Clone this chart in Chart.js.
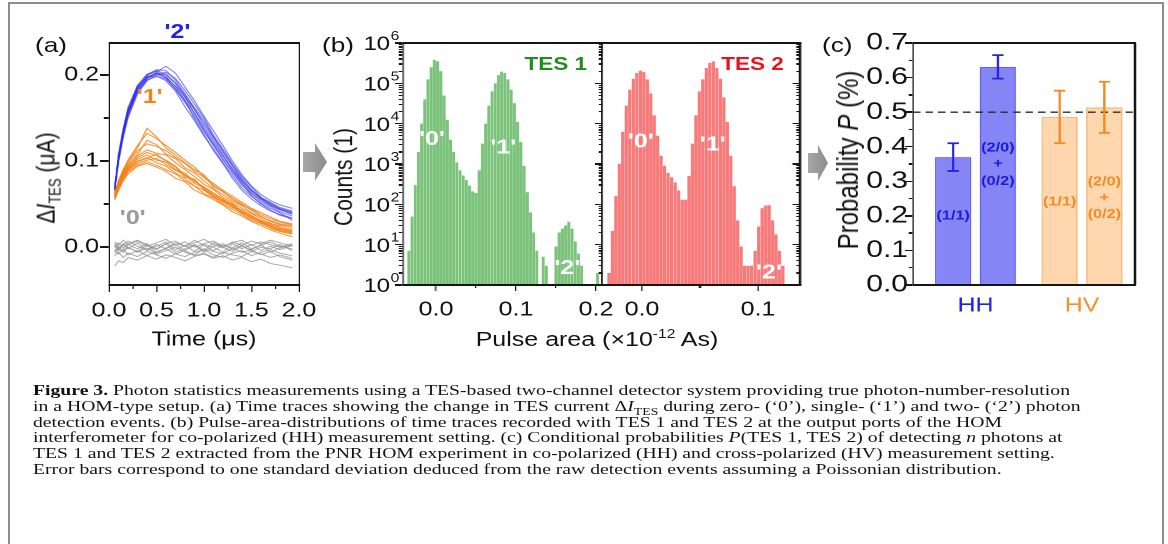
<!DOCTYPE html>
<html><head><meta charset="utf-8">
<script src="https://cdn.jsdelivr.net/npm/chart.js@4.4.1/dist/chart.umd.min.js"></script>
<style>
html,body{margin:0;padding:0;background:#fff;}
body{width:1168px;height:544px;overflow:hidden;position:relative;font-family:"Liberation Sans",Arial,sans-serif;color:#111;}
#frame{position:absolute;left:8px;top:2px;width:1152px;height:600px;border:2px solid #8d8d8d;border-bottom:none;}
#stage{position:absolute;left:0;top:0;width:934.4px;height:360px;transform:scaleX(1.25);transform-origin:0 0;}
.pan{position:absolute;top:0;}
.lbl{position:absolute;font-size:21px;line-height:21px;white-space:nowrap;}
.ttl{position:absolute;white-space:nowrap;transform:translate(-50%,-50%) rotate(-90deg);line-height:1;}
.xttl{position:absolute;white-space:nowrap;transform:translate(-50%,-50%);line-height:1;}
.ttl sub,.xttl sup{font-size:0.62em;line-height:0;}
.fr{position:absolute;background:#151515;}
#arrows{position:absolute;left:0;top:0;}
#caption{position:absolute;left:33px;top:382px;font-family:"Liberation Serif","Times New Roman",serif;font-size:15.5px;line-height:15.8px;color:#111;transform-origin:0 0;white-space:nowrap;}
#caption sub{font-size:0.7em;line-height:0;}
</style>
</head><body>
<div id="frame"></div>
<div id="stage">
  <canvas class="pan" id="ca" width="267" height="360" style="left:0"></canvas>
  <canvas class="pan" id="cb1" width="270" height="360" style="left:240px"></canvas>
  <canvas class="pan" id="cb2" width="190" height="360" style="left:470px"></canvas>
  <canvas class="pan" id="cc" width="290" height="360" style="left:640px"></canvas>
  <div class="lbl" style="left:28px;top:34px">(a)</div>
  <div class="lbl" style="left:257.6px;top:34px">(b)</div>
  <div class="lbl" style="left:657.6px;top:34px">(c)</div>
  <div class="ttl" style="left:36px;top:178px;font-size:21px">Δ<i>I</i><sub>TES</sub> (μA)</div>
  <div class="ttl" style="left:274.4px;top:177px;font-size:21px">Counts (1)</div>
  <div class="ttl" style="left:678.4px;top:160px;font-size:24px">Probability <i>P</i> (%)</div>
  <div class="xttl" style="left:477.6px;top:339px;font-size:20px">Pulse area (×10<sup>-12</sup> As)</div>
</div>
<svg id="arrows" width="1168" height="544">
  <defs><linearGradient id="ag" x1="0" y1="0" x2="1" y2="0"><stop offset="0" stop-color="#a8a8a8"/><stop offset="1" stop-color="#8c8c8c"/></linearGradient></defs>
  <polygon points="303,152 315,152 315,143 327,162 315,181 315,172 303,172" fill="url(#ag)"/>
  <polygon points="808,153 818,153 818,145 828,163 818,181 818,173 808,173" fill="url(#ag)"/>
</svg>
<div id="caption">
<div><span id="cl1"><b>Figure 3.</b> Photon statistics measurements using a TES-based two-channel detector system providing true photon-number-resolution</span></div>
<div>in a HOM-type setup. (a) Time traces showing the change in TES current Δ<i>I</i><sub>TES</sub> during zero- (‘0’), single- (‘1’) and two- (‘2’) photon</div>
<div>detection events. (b) Pulse-area-distributions of time traces recorded with TES 1 and TES 2 at the output ports of the HOM</div>
<div>interferometer for co-polarized (HH) measurement setting. (c) Conditional probabilities <i>P</i>(TES 1, TES 2) of detecting <i>n</i> photons at</div>
<div>TES 1 and TES 2 extracted from the PNR HOM experiment in co-polarized (HH) and cross-polarized (HV) measurement setting.</div>
<div>Error bars correspond to one standard deviation deduced from the raw detection events assuming a Poissonian distribution.</div>
</div>
<script>
// ---------------- data ----------------
// (a) time axis (µs) of the traces
const traceTime = [0.06,0.1,0.15,0.2,0.3,0.4,0.5,0.6,0.7,0.8,0.9,1.0,1.1,1.2,1.3,1.4,1.5,1.6,1.7,1.8,1.93];
// (a) two-photon traces '2' (µA)
const traces2 = [
 [0.068,0.105,0.135,0.158,0.185,0.198,0.201,0.196,0.183,0.168,0.152,0.134,0.118,0.101,0.086,0.072,0.062,0.053,0.047,0.041,0.036],
 [0.066,0.100,0.130,0.152,0.180,0.195,0.202,0.200,0.190,0.174,0.160,0.141,0.124,0.107,0.090,0.075,0.063,0.055,0.048,0.043,0.038],
 [0.070,0.108,0.138,0.162,0.188,0.200,0.204,0.198,0.186,0.171,0.149,0.131,0.112,0.097,0.080,0.066,0.056,0.048,0.042,0.038,0.034],
 [0.065,0.098,0.127,0.150,0.178,0.193,0.200,0.203,0.196,0.182,0.166,0.150,0.130,0.114,0.097,0.082,0.070,0.058,0.052,0.046,0.042],
 [0.069,0.104,0.134,0.157,0.184,0.197,0.199,0.193,0.181,0.163,0.147,0.129,0.114,0.098,0.083,0.069,0.059,0.051,0.045,0.040,0.031],
 [0.067,0.102,0.132,0.155,0.183,0.199,0.206,0.205,0.194,0.178,0.160,0.144,0.127,0.110,0.094,0.078,0.065,0.057,0.050,0.044,0.040],
 [0.068,0.106,0.136,0.160,0.186,0.197,0.202,0.197,0.187,0.175,0.155,0.136,0.119,0.103,0.088,0.074,0.060,0.050,0.043,0.037,0.033],
 [0.066,0.101,0.131,0.154,0.182,0.196,0.203,0.210,0.202,0.186,0.170,0.152,0.135,0.118,0.100,0.084,0.071,0.061,0.054,0.049,0.045],
 [0.069,0.103,0.133,0.156,0.181,0.194,0.198,0.195,0.184,0.170,0.156,0.138,0.121,0.106,0.091,0.077,0.066,0.056,0.049,0.044,0.039],
 [0.067,0.104,0.134,0.159,0.187,0.201,0.205,0.201,0.191,0.177,0.162,0.147,0.128,0.112,0.095,0.080,0.067,0.057,0.051,0.045,0.041]
];
// (a) single-photon traces '1' (µA)
const traces1 = [
 [0.060,0.072,0.083,0.091,0.100,0.104,0.098,0.094,0.086,0.080,0.071,0.066,0.058,0.052,0.046,0.040,0.033,0.028,0.024,0.020,0.017],
 [0.058,0.070,0.082,0.092,0.104,0.110,0.106,0.101,0.094,0.083,0.078,0.068,0.062,0.054,0.050,0.042,0.036,0.031,0.027,0.025,0.022],
 [0.062,0.076,0.088,0.097,0.112,0.120,0.117,0.112,0.104,0.097,0.088,0.081,0.072,0.064,0.057,0.050,0.043,0.036,0.030,0.026,0.024],
 [0.055,0.066,0.077,0.085,0.094,0.097,0.093,0.088,0.080,0.076,0.066,0.061,0.055,0.049,0.041,0.036,0.030,0.025,0.020,0.016,0.012],
 [0.061,0.076,0.090,0.101,0.118,0.132,0.126,0.118,0.110,0.101,0.093,0.082,0.074,0.066,0.059,0.052,0.045,0.040,0.035,0.030,0.027],
 [0.059,0.071,0.081,0.089,0.097,0.101,0.103,0.096,0.089,0.084,0.074,0.069,0.060,0.055,0.047,0.043,0.037,0.030,0.026,0.022,0.019],
 [0.063,0.075,0.086,0.095,0.106,0.113,0.109,0.107,0.098,0.090,0.082,0.073,0.067,0.058,0.051,0.045,0.039,0.033,0.028,0.023,0.020],
 [0.057,0.069,0.079,0.087,0.095,0.099,0.095,0.090,0.085,0.077,0.071,0.062,0.057,0.050,0.044,0.038,0.031,0.027,0.022,0.018,0.015],
 [0.061,0.074,0.086,0.094,0.108,0.124,0.119,0.108,0.103,0.092,0.086,0.077,0.068,0.061,0.053,0.048,0.040,0.035,0.031,0.027,0.025],
 [0.060,0.073,0.085,0.093,0.102,0.107,0.101,0.099,0.090,0.086,0.076,0.070,0.063,0.056,0.049,0.041,0.035,0.029,0.025,0.021,0.018],
 [0.056,0.068,0.080,0.090,0.099,0.103,0.108,0.100,0.093,0.081,0.079,0.067,0.059,0.053,0.048,0.039,0.034,0.030,0.023,0.019,0.016],
 [0.062,0.077,0.089,0.099,0.115,0.138,0.128,0.115,0.107,0.098,0.090,0.084,0.070,0.065,0.055,0.049,0.044,0.038,0.033,0.029,0.026]
];
// (a) zero-photon traces '0' (µA)
const traces0 = [
 [0.002,-0.003,0.004,-0.002,0.005,-0.004,0.001,0.006,-0.003,0.002,-0.005,0.003,0.000,-0.006,0.004,-0.002,0.003,-0.004,0.001,-0.003,0.002],
 [-0.005,0.001,-0.006,0.003,-0.002,0.004,-0.007,-0.001,0.003,-0.004,0.002,-0.006,0.001,0.004,-0.003,0.002,-0.005,0.000,-0.002,0.003,-0.004],
 [0.006,0.002,0.008,0.003,0.007,0.001,0.005,0.009,0.002,0.006,0.000,0.004,0.007,0.001,0.005,0.008,0.002,0.006,0.003,0.000,0.004],
 [-0.010,-0.006,-0.012,-0.007,-0.011,-0.005,-0.009,-0.013,-0.008,-0.004,-0.010,-0.007,-0.012,-0.006,-0.009,-0.011,-0.005,-0.008,-0.012,-0.009,-0.013],
 [-0.022,-0.016,-0.018,-0.012,-0.015,-0.010,-0.014,-0.009,-0.012,-0.016,-0.011,-0.008,-0.013,-0.010,-0.015,-0.012,-0.017,-0.014,-0.019,-0.021,-0.024],
 [0.000,0.005,-0.001,0.004,0.008,0.003,-0.002,0.004,0.007,0.001,0.005,0.009,0.003,-0.001,0.006,0.002,0.007,0.004,0.008,0.005,0.001],
 [-0.003,-0.008,-0.002,-0.009,-0.004,-0.010,-0.005,-0.002,-0.008,-0.011,-0.006,-0.003,-0.009,-0.012,-0.007,-0.004,-0.010,-0.006,-0.003,-0.007,-0.010],
 [0.004,-0.001,0.002,0.007,0.001,-0.003,0.003,-0.002,0.005,0.001,0.008,0.002,-0.004,0.002,-0.001,0.005,-0.002,0.002,0.006,0.001,-0.002],
 [-0.007,-0.002,-0.005,0.000,-0.006,-0.001,-0.008,-0.004,0.000,-0.006,-0.009,-0.002,-0.005,-0.008,-0.001,-0.006,-0.003,-0.009,-0.005,-0.011,-0.015],
 [0.001,-0.004,0.003,-0.001,-0.005,0.002,-0.003,0.004,-0.006,-0.002,0.003,-0.004,0.005,0.000,-0.005,0.001,-0.003,0.003,-0.006,-0.001,0.003]
];
// (b) TES 1 histogram: bin centres (1e-12 As) and counts
const tes1Bins = [-0.034,-0.030,-0.026,-0.022,-0.018,-0.014,-0.010,-0.006,-0.002,0.002,0.006,0.010,0.014,0.018,0.022,0.026,0.030,0.034,0.038,0.042,0.046,0.050,0.054,0.058,0.062,0.066,0.070,0.074,0.078,0.082,0.086,0.090,0.094,0.098,0.102,0.106,0.110,0.114,0.118,0.122,0.126,0.130,0.134,0.138,0.142,0.146,0.150,0.154,0.158,0.162,0.166,0.170,0.174,0.178,0.182,0.186,0.190,0.194,0.198,0.202];
const tes1Counts = [7,50,300,2000,10000,40000,125000,250000,380000,350000,200000,50000,12500,4000,2000,1100,700,520,400,290,210,190,700,3200,10000,28000,63000,100000,160000,195000,180000,125000,70000,32000,11000,3500,900,200,63,20,7,null,5,3,null,null,9,20,25,30,37,25,12,6,3,null,null,null,null,2];
// (b) TES 2 histogram: bin centres (1e-12 As) and counts
const tes2Bins = [-0.0285,-0.0255,-0.0225,-0.0195,-0.0165,-0.0135,-0.0105,-0.0075,-0.0045,-0.0015,0.0015,0.0045,0.0075,0.0105,0.0135,0.0165,0.0195,0.0225,0.0255,0.0285,0.0315,0.0345,0.0375,0.0405,0.0435,0.0465,0.0495,0.0525,0.0555,0.0585,0.0615,0.0645,0.0675,0.0705,0.0735,0.0765,0.0795,0.0825,0.0855,0.0885,0.0915,0.0945,0.0975,0.1005,0.1035,0.1065,0.1095,0.1125,0.1155,0.1185,0.1215];
const tes2Counts = [2,22,160,1000,6300,28000,70000,130000,180000,205000,190000,125000,56000,16000,5000,1600,900,600,470,350,220,130,130,500,3200,16000,63000,125000,240000,320000,350000,240000,130000,45000,11000,1600,280,40,9,3,3,3,7,28,80,93,95,40,18,7,3];
// (c) conditional probabilities (%)
const probCats = ['HH','HV'];
const prob11 = [0.370,0.486];
const prob20 = [0.631,0.514];
const err11 = [0.040,0.076];
const err20 = [0.034,0.074];

// ---------------- helpers / plugins ----------------
Chart.defaults.font.family = '"Liberation Sans", Arial, Helvetica, sans-serif';
Chart.defaults.color = '#111';
const base = {responsive:false, devicePixelRatio:2, animation:false, events:[]};
const FF = '"Liberation Sans", Arial, sans-serif';
let uid = 0;

function linTicks(s){
  const t = s.ticks.map(k=>k.value), m=[];
  for(let i=0;i<t.length-1;i++) m.push((t[i]+t[i+1])/2);
  return {major:t, minor:m};
}
function logTicks(s){
  const major=[], minor=[];
  const k0=Math.round(Math.log10(s.min)), k1=Math.round(Math.log10(s.max));
  for(let k=k0;k<=k1;k++){
    major.push(Math.pow(10,k));
    if(k<k1) for(let m=2;m<10;m++) minor.push(m*Math.pow(10,k));
  }
  return {major, minor};
}
// axes box + tick marks, placed from the chart's own chartArea and scales, on top of the canvases
function htmlFrame(chart, left, o){
  const st=document.getElementById('stage'), a=chart.chartArea, sc=chart.scales;
  const add=(x,y,w,h)=>{const d=document.createElement('div'); d.className='fr';
    d.style.left=(left+x)+'px'; d.style.top=y+'px'; d.style.width=w+'px'; d.style.height=h+'px'; st.appendChild(d);};
  const hw=1.3, vw=1.05;
  add(a.left-vw/2, a.top-hw/2, a.right-a.left+vw, hw);
  add(a.left-vw/2, a.bottom-hw/2, a.right-a.left+vw, hw);
  add(a.left-vw/2, a.top, vw, a.bottom-a.top);
  add(a.right-vw/2, a.top, vw, a.bottom-a.top);
  if(o.xt){
    const s=sc.x, t=linTicks(s);
    t.major.forEach(v=>{const p=s.getPixelForValue(v); add(p-vw/2, a.bottom, vw, o.xt[0]);});
    t.minor.forEach(v=>{const p=s.getPixelForValue(v); add(p-vw/2, a.bottom, vw, o.xt[1]);});
  }
  if(o.yt){
    const s=sc.y, t=o.log?logTicks(s):linTicks(s);
    const side=(x0,dir,len,vals)=>vals.forEach(v=>{const p=s.getPixelForValue(v);
      if(p>=a.top-0.5&&p<=a.bottom+0.5) add(dir<0?x0-len:x0, p-hw/2, len, hw);});
    if(o.left){ side(a.left,o.left,o.yt[0],t.major); side(a.left,o.left,o.yt[1],t.minor); }
    if(o.right){ side(a.right,o.right,o.yt[0],t.major); side(a.right,o.right,o.yt[1],t.minor); }
  }
}
function logLabelPlugin(){
  return {id:'loglab'+(uid++), afterDatasetsDraw(chart){
    const {ctx, chartArea:a, scales} = chart, s=scales.y;
    ctx.save();
    logTicks(s).major.forEach(v=>{
      const p=s.getPixelForValue(v), e=String(Math.round(Math.log10(v)));
      ctx.fillStyle='#111';
      ctx.font='12.5px '+FF;
      ctx.textAlign='right'; ctx.textBaseline='alphabetic';
      const xr=a.left-3, sw=ctx.measureText(e).width;
      ctx.fillText(e,xr,p-3);
      ctx.font='19px '+FF;
      ctx.textBaseline='middle';
      ctx.fillText('10',xr-sw-0.5,p+2);
    });
    ctx.restore();
  }};
}
function annotPlugin(items){
  return {id:'annot'+(uid++), afterDatasetsDraw(chart){
    const {ctx, scales, chartArea:a} = chart;
    ctx.save();
    items.forEach(it=>{
      ctx.font=it.font; ctx.fillStyle=it.color;
      ctx.textAlign=it.align||'center'; ctx.textBaseline='middle';
      let x,y;
      if(it.corner){ x=a.right-it.dx; y=a.top+it.dy; }
      else { x=scales.x.getPixelForValue(it.x); y=scales.y.getPixelForValue(it.y); }
      ctx.fillText(it.text,x,y);
    });
    ctx.restore();
  }};
}
function errPlugin(o){
  return {id:'err'+(uid++), afterDatasetsDraw(chart){
    const {ctx, scales, chartArea:a} = chart;
    const ys=scales.y;
    ctx.save();
    ctx.strokeStyle='#2a2a2a'; ctx.lineWidth=1.4; ctx.setLineDash([6,4]);
    ctx.beginPath(); const yr=ys.getPixelForValue(o.refLine); ctx.moveTo(a.left,yr); ctx.lineTo(a.right,yr); ctx.stroke();
    ctx.setLineDash([]);
    chart.data.datasets.forEach((ds,di)=>{
      const meta=chart.getDatasetMeta(di);
      meta.data.forEach((el,j)=>{
        const v=ds.data[j].y, e=o.errors[di][j];
        const y1=ys.getPixelForValue(v+e), y2=ys.getPixelForValue(v-e);
        ctx.strokeStyle=o.colors[j]; ctx.lineWidth=1.8;
        ctx.beginPath();
        ctx.moveTo(el.x,y1); ctx.lineTo(el.x,y2);
        ctx.moveTo(el.x-4.5,y1); ctx.lineTo(el.x+4.5,y1);
        ctx.moveTo(el.x-4.5,y2); ctx.lineTo(el.x+4.5,y2);
        ctx.stroke();
      });
    });
    ctx.font='bold 13px '+FF;
    ctx.textAlign='center'; ctx.textBaseline='middle';
    o.labels.forEach(L=>{
      const el=chart.getDatasetMeta(L.ds).data[L.idx];
      ctx.fillStyle=o.textColors[L.idx];
      L.lines.forEach((t,k)=>ctx.fillText(t, el.x, ys.getPixelForValue(L.at[k])));
    });
    ctx.restore();
  }};
}
const noGrid = {grid:{display:false,drawTicks:false},border:{display:false}};

// ---------------- (a) time traces ----------------
const mk=(arr,col)=>arr.map(d=>({data:traceTime.map((t,i)=>({x:t,y:d[i]})), borderColor:col, borderWidth:1, pointRadius:0, tension:0}));
const chA = new Chart(document.getElementById('ca'), {
  type:'line',
  data:{datasets:[...mk(traces1,'rgba(245,128,20,0.85)'), ...mk(traces2,'rgba(45,45,235,0.6)'), ...mk(traces0,'rgba(150,150,150,0.8)')]},
  options:{...base,
    layout:{padding:{left:0,right:20.8,top:43,bottom:0}},
    plugins:{legend:{display:false},tooltip:{enabled:false}},
    scales:{
      x:{type:'linear',min:0,max:2,afterFit:s=>{s.height=75;},...noGrid,
         ticks:{stepSize:0.5,autoSkip:false,maxRotation:0,padding:14,font:{size:20},callback:v=>v.toFixed(1)},
         title:{display:true,text:'Time (μs)',font:{size:20},padding:{top:0,bottom:8}}},
      y:{type:'linear',min:-0.044,max:0.237,afterFit:s=>{s.width=87.2;},...noGrid,
         ticks:{stepSize:0.1,includeBounds:false,padding:8,font:{size:20},callback:v=>Math.abs(v).toFixed(1)}}
    }},
  plugins:[annotPlugin([
        {text:"'2'",x:0.72,y:0.249,color:'#2020e6',font:'bold 20px '+FF},
        {text:"'1'",x:0.43,y:0.174,color:'#f28418',font:'bold 20px '+FF},
        {text:"'0'",x:0.25,y:0.033,color:'#9a9a9a',font:'bold 20px '+FF}])]
});
htmlFrame(chA, 0, {xt:[7,4], yt:[7,4], left:-1});

// ---------------- (b) histograms ----------------
function histChart(id, bins, counts, color, xmin, xmax, pad, items, extra){
  return new Chart(document.getElementById(id), {
    type:'bar',
    data:{datasets:[{data:bins.map((x,i)=>({x,y:counts[i]})).filter(p=>p.y), backgroundColor:color, borderWidth:0, barPercentage:0.93, categoryPercentage:1}]},
    options:{...base,
      layout:{padding:{left:pad[0],right:pad[1],top:43,bottom:0}},
      plugins:{legend:{display:false},tooltip:{enabled:false}},
      scales:{
        x:{type:'linear',offset:false,min:xmin,max:xmax,afterFit:s=>{s.height=75;},...noGrid,
           ticks:{stepSize:0.1,includeBounds:false,autoSkip:false,maxRotation:0,padding:13,font:{size:20},callback:v=>v.toFixed(1)}},
        y:{type:'logarithmic',min:1,max:1e6,display:false}
      }},
    plugins:[annotPlugin(items), ...extra]
  });
}
const wf='bold 20px '+FF;
const chB1 = histChart('cb1', tes1Bins, tes1Counts, '#7bc27b', -0.04125, 0.2075, [82.4,28.4],
  [{text:"'0'",x:-0.005,y:4000,color:'#fff',font:wf},{text:"'1'",x:0.084,y:2500,color:'#fff',font:wf},{text:"'2'",x:0.164,y:2.6,color:'#fff',font:wf},
   {text:'TES 1',corner:true,dx:12,dy:22,align:'right',color:'#1e8c1e',font:'bold 18px '+FF}], [logLabelPlugin()]);
htmlFrame(chB1, 240, {xt:[6,3], yt:[6,3], log:true, left:-1, right:-1});
const chB2 = histChart('cb2', tes2Bins, tes2Counts, '#f77a7a', -0.0345, 0.1362, [11.6,20],
  [{text:"'0'",x:-0.001,y:3500,color:'#fff',font:wf},{text:"'1'",x:0.061,y:3000,color:'#fff',font:wf},{text:"'2'",x:0.1095,y:2,color:'#fff',font:wf},
   {text:'TES 2',corner:true,dx:13,dy:22,align:'right',color:'#e8121c',font:'bold 18px '+FF}], []);
htmlFrame(chB2, 470, {xt:[6,3], yt:[6,3], log:true, right:-1});

// ---------------- (c) probabilities ----------------
const hhFill='rgba(70,70,240,0.66)', hvFill='rgba(255,190,125,0.62)';
const hhLine='rgba(80,80,240,0.9)', hvLine='rgba(250,175,105,0.9)';
const barDs = vals => ({data:vals.map((y,i)=>({x:i,y})), backgroundColor:[hhFill,hvFill], borderColor:[hhLine,hvLine], borderWidth:1.2, categoryPercentage:0.84, barPercentage:0.81});
const chC = new Chart(document.getElementById('cc'), {
  type:'bar',
  data:{datasets:[barDs(prob11), barDs(prob20)]},
  options:{...base,
    layout:{padding:{left:0,right:22,top:43,bottom:0}},
    plugins:{legend:{display:false},tooltip:{enabled:false}},
    scales:{
      x:{type:'linear',offset:false,min:-0.587,max:1.498,afterFit:s=>{s.height=75;},...noGrid,
         ticks:{stepSize:1,includeBounds:false,autoSkip:false,maxRotation:0,padding:9,font:{size:20},
                callback:v=>probCats[v]??'', color:c=>c.tick&&c.tick.value===0?'#2222e8':'#f5902a'}},
      y:{min:0,max:0.7,afterFit:s=>{s.width=90.4;},...noGrid,
         ticks:{stepSize:0.1,padding:4,font:{size:24},callback:v=>v.toFixed(1)}}
    }},
  plugins:[errPlugin({refLine:0.5, errors:[err11,err20], colors:['#2424dc','#f28a24'], textColors:['#1c1cd8','#f28a24'],
        labels:[{ds:0,idx:0,lines:['(1/1)'],at:[0.2]},
                {ds:1,idx:0,lines:['(2/0)','+','(0/2)'],at:[0.396,0.35,0.3]},
                {ds:0,idx:1,lines:['(1/1)'],at:[0.24]},
                {ds:1,idx:1,lines:['(2/0)','+','(0/2)'],at:[0.298,0.252,0.204]}]})]
});
htmlFrame(chC, 640, {yt:[6,3], left:-1});

// caption width fit
(function(){
  const cap=document.getElementById('caption');
  const w=document.getElementById('cl1').getBoundingClientRect().width;
  cap.style.transform='scaleX('+(1037/w)+')';
})();
</script>
</body></html>
